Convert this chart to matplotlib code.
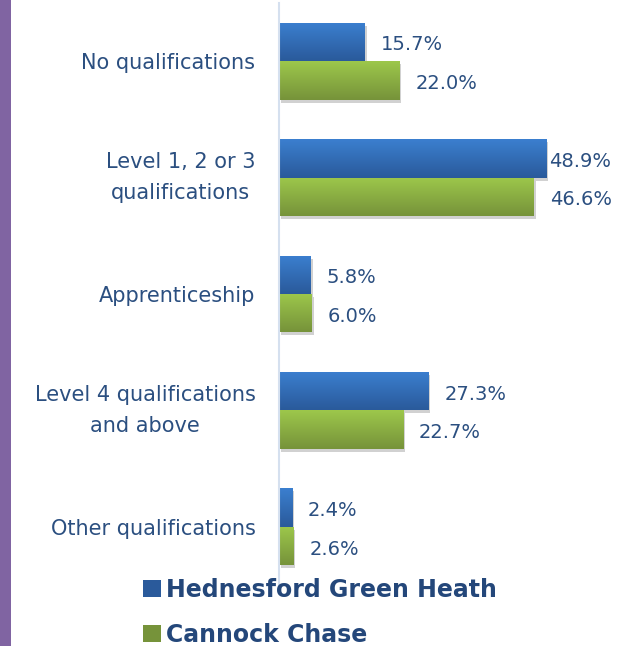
import numpy as np
import matplotlib
matplotlib.use("Agg")
import matplotlib.pyplot as plt
from matplotlib.patches import Rectangle
from matplotlib.colors import LinearSegmentedColormap
import matplotlib.transforms as mtransforms

categories = ["No qualifications", "Level 1, 2 or 3\nqualifications", "Apprenticeship",
              "Level 4 qualifications\nand above", "Other qualifications"]
hednesford = [15.7, 48.9, 5.8, 27.3, 2.4]
cannock = [22.0, 46.6, 6.0, 22.7, 2.6]
series_names = ["Hednesford Green Heath", "Cannock Chase"]

TEXT = "#2b4f80"
BLUE_TOP, BLUE_BOT = "#3b7fcf", "#2a5a9b"
GREEN_TOP, GREEN_BOT = "#9dc74b", "#76933a"

fig = plt.figure(figsize=(6.18, 6.46), dpi=100)
fig.patch.set_facecolor("white")
fig.add_artist(Rectangle((0, 0), 11 / 618, 1, transform=fig.transFigure,
                         facecolor="#8064a2", edgecolor="none"))

ax = fig.add_axes([279 / 618, 61 / 646, 1 - 279 / 618, 582 / 646])
n = len(categories)
y = np.arange(n)
h = 0.33

def grad_bars(vals, offset, top, bot):
    bars = ax.barh(y + offset, vals, height=h, color=bot, edgecolor="none", zorder=2)
    cmap = LinearSegmentedColormap.from_list("g", [top, bot])
    grad = np.linspace(0, 1, 64).reshape(-1, 1)
    for b in bars:
        x0, y0 = b.get_x(), b.get_y()
        w, hh = b.get_width(), b.get_height()
        sh = Rectangle((x0, y0), w, hh, facecolor="#000000", alpha=0.18, edgecolor="none",
                       zorder=1, transform=ax.transData + mtransforms.ScaledTranslation(2 / 100, -3 / 100, fig.dpi_scale_trans))
        ax.add_patch(sh)
        im = ax.imshow(grad, cmap=cmap, aspect="auto", extent=(x0, x0 + w, y0 + hh, y0),
                       zorder=3, interpolation="bilinear")
        im.set_clip_path(b)
    return bars

grad_bars(hednesford, -h / 2, BLUE_TOP, BLUE_BOT)
grad_bars(cannock, h / 2, GREEN_TOP, GREEN_BOT)
ax.set_xlim(0, 62)
ax.set_ylim(n - 0.5, -0.5)

blue_off = [16, 3, 16, 16, 16]
green_off = [16, 16, 16, 16, 16]
for i in range(n):
    ax.annotate(f"{hednesford[i]:.1f}%", (hednesford[i], y[i] - h / 2), xytext=(blue_off[i], -3),
                textcoords="offset pixels", va="center", ha="left", fontsize=14, color=TEXT, zorder=5)
    ax.annotate(f"{cannock[i]:.1f}%", (cannock[i], y[i] + h / 2), xytext=(green_off[i], -3),
                textcoords="offset pixels", va="center", ha="left", fontsize=14, color=TEXT, zorder=5)

ax.set_yticks(y)
ax.set_yticklabels(categories, fontsize=15, color=TEXT, linespacing=1.7, multialignment="center")
for lab in ax.get_yticklabels():
    if "\n" in lab.get_text():
        lab.set_va("center")
ax.tick_params(axis="y", length=0, pad=17)
ax.set_xticks([])
for s in ["top", "right", "bottom"]:
    ax.spines[s].set_visible(False)
ax.spines["left"].set_color("#d5e0ef")
ax.spines["left"].set_linewidth(1.5)
ax.spines["left"].set_zorder(6)
ax.patch.set_alpha(0)

handles = [Rectangle((0, 0), 1, 1, facecolor=BLUE_BOT), Rectangle((0, 0), 1, 1, facecolor=GREEN_BOT)]
leg = fig.legend(handles, series_names, loc="upper left", bbox_to_anchor=(131 / 618, 1 - 566 / 646),
                 frameon=False, prop={"weight": "bold", "size": 17}, handlelength=0.75, handleheight=0.75,
                 handletextpad=0.25, labelspacing=0.9, borderpad=0)
for t in leg.get_texts():
    t.set_color("#24477a")

fig.savefig("out.png", dpi=100)
